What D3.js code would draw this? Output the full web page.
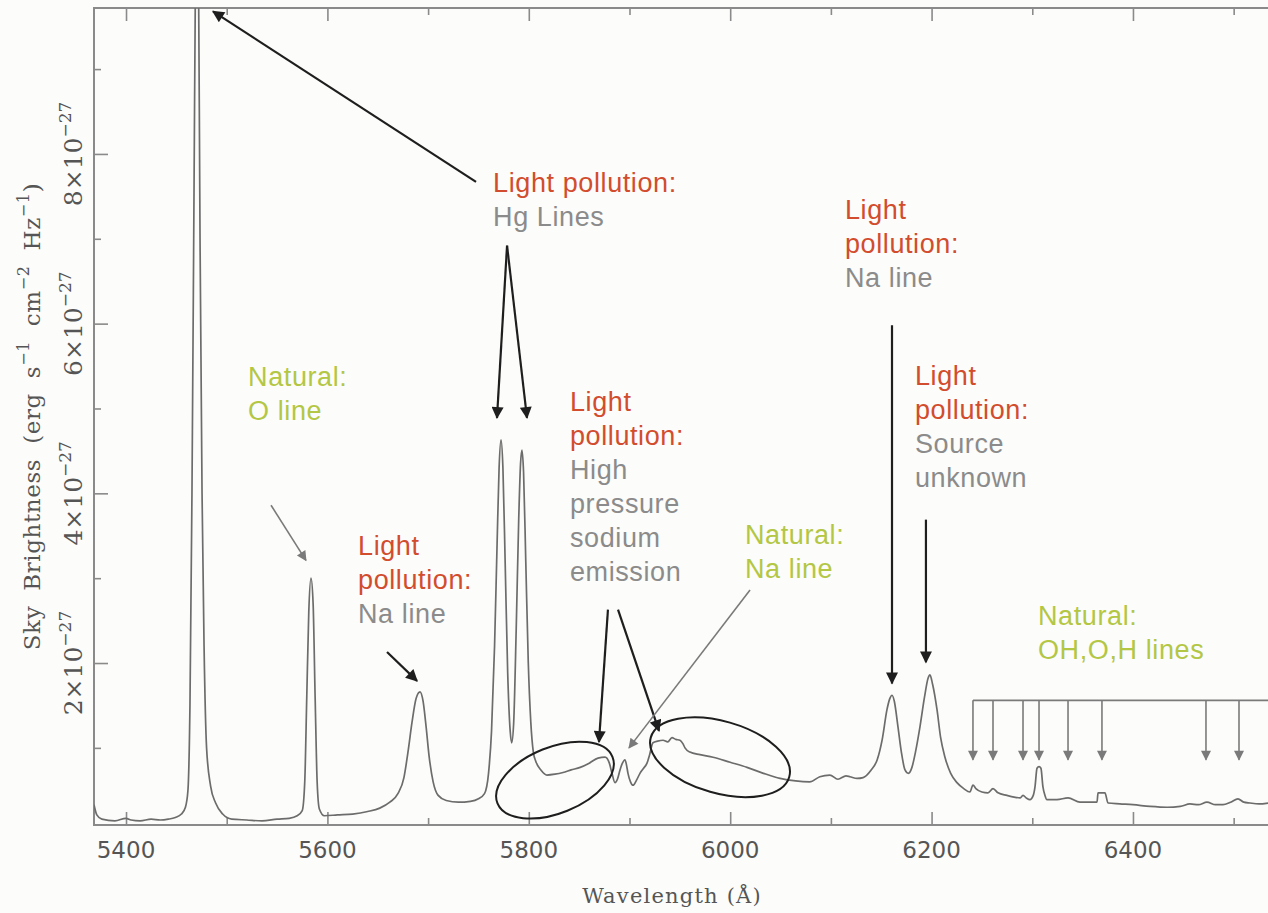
<!DOCTYPE html>
<html>
<head>
<meta charset="utf-8">
<script src="https://cdn.jsdelivr.net/npm/d3@7"></script>
<style>
  html, body { margin: 0; padding: 0; background: #fcfcfa; }
  svg { display: block; }
</style>
</head>
<body>
<svg id="chart" width="1268" height="913"></svg>
<script>
// Sky spectrum, flux in units of 1e-27 erg s^-1 cm^-2 Hz^-1
const wavelength = [
  5368.2, 5371, 5376, 5389, 5400, 5405, 5414, 5425, 5434, 5442, 5449, 5455, 5459,
  5461.5, 5463.5, 5465.5, 5467.5, 5469.2, 5470.5, 5471.8, 5473.5, 5475.5, 5477.5, 5480, 5484, 5489, 5496,
  5505, 5520, 5535, 5550, 5562, 5570, 5575,
  5577.5, 5579.5, 5581.5, 5583.7, 5585.8, 5587.8, 5589.8, 5592, 5597,
  5610, 5625, 5640, 5652, 5662, 5670, 5676, 5680, 5684, 5688, 5692, 5695, 5698, 5701, 5705, 5710,
  5718, 5730, 5742, 5750, 5756, 5760, 5763, 5766, 5768.5, 5770.5, 5772.4, 5774.3, 5776.5, 5779, 5781.5,
  5783, 5785, 5787.5, 5790, 5791.8, 5793.2, 5794.8, 5797, 5799.5, 5802, 5804.5, 5807, 5812, 5818,
  5826, 5834, 5842, 5851, 5860, 5868.7, 5875.7, 5880, 5882.6, 5885.6, 5888, 5890.6, 5893, 5895.5,
  5897, 5898.5, 5901, 5903.5, 5907, 5910.4, 5914, 5917.4, 5920, 5923.3, 5928, 5933.3, 5938, 5942.2,
  5946, 5950.1, 5953, 5955.1, 5960, 5970, 5983, 6000, 6016.7, 6033, 6049.5, 6065, 6079,
  6089, 6099, 6107, 6115, 6119, 6126, 6132, 6140, 6146, 6151, 6155.7, 6158.5, 6160.7, 6163, 6166.6,
  6170, 6173.6, 6177, 6180.5, 6184, 6188.5, 6193, 6196.5, 6198.4, 6201, 6205.4, 6209, 6213.3, 6219,
  6225.2, 6232, 6238.1, 6241.1, 6244, 6250, 6256, 6261, 6266, 6274.9, 6282, 6287.8, 6290.8, 6294,
  6297.7, 6301, 6302.7, 6304.7, 6306.7, 6308.6, 6310.6, 6312.6, 6314.6, 6324.5, 6335.5, 6347.4,
  6364.3, 6365.3, 6372.2, 6375.2, 6387, 6400, 6417, 6434, 6447, 6456.6, 6465, 6473.5, 6482, 6489.4,
  6497, 6504.3, 6510, 6516.2, 6525, 6534.1
];
const flux = [
  0.33, 0.21, 0.16, 0.14, 0.17, 0.15, 0.14, 0.16, 0.15, 0.16, 0.18, 0.22, 0.30,
  0.50, 1.5, 4.0, 7.5, 10.5, 11.5, 10.5, 7.0, 4.0, 2.2, 1.0, 0.55, 0.35, 0.22,
  0.16, 0.15, 0.14, 0.16, 0.17, 0.20, 0.26,
  0.6, 1.6, 2.6, 3.0, 2.7, 1.6, 0.6, 0.28, 0.20,
  0.21, 0.22, 0.25, 0.29, 0.36, 0.46, 0.65, 0.95, 1.3, 1.58, 1.66, 1.55, 1.25, 0.9, 0.6, 0.44,
  0.38, 0.36, 0.37, 0.40, 0.46, 0.7, 1.2, 2.2, 3.4, 4.3, 4.63, 4.3, 3.2, 1.9, 1.2,
  1.06, 1.3, 2.4, 3.7, 4.35, 4.51, 4.25, 3.2, 2.0, 1.3, 0.95, 0.84, 0.74, 0.68,
  0.69, 0.71, 0.74, 0.77, 0.82, 0.88, 0.89, 0.82, 0.70, 0.59, 0.63, 0.74, 0.82, 0.86,
  0.80, 0.70, 0.60, 0.56, 0.62, 0.70, 0.76, 0.82, 0.92, 1.06, 1.08, 1.09, 1.07, 1.12,
  1.10, 1.09, 1.05, 1.00, 0.95, 0.92, 0.89, 0.83, 0.77, 0.70, 0.64, 0.61, 0.60,
  0.66, 0.68, 0.63, 0.67, 0.66, 0.64, 0.65, 0.74, 0.86, 1.1, 1.45, 1.58, 1.62, 1.55, 1.25,
  0.95, 0.74, 0.70, 0.77, 0.95, 1.25, 1.6, 1.82, 1.86, 1.75, 1.45, 1.12, 0.89, 0.70,
  0.59, 0.52, 0.48, 0.56, 0.52, 0.48, 0.47, 0.52, 0.47, 0.44, 0.42, 0.41, 0.44, 0.41,
  0.39, 0.44, 0.54, 0.76, 0.78, 0.76, 0.54, 0.44, 0.39, 0.39, 0.41, 0.36,
  0.36, 0.47, 0.47, 0.35, 0.34, 0.33, 0.31, 0.30, 0.31, 0.34, 0.33, 0.36, 0.33, 0.33,
  0.36, 0.40, 0.36, 0.35, 0.34, 0.35
];

// axis ticks
const xMajorTicks = [5400, 5600, 5800, 6000, 6200, 6400];
const xMinorTicks = [5500, 5700, 5900, 6100, 6300, 6500];
const yMajorTicks = [2, 4, 6, 8];
const yMinorTicks = [1, 3, 5, 7, 9];

// arrows: [from wavelength, from flux, to wavelength, to flux, colour]
const arrows = [
  [5747.6, 7.67, 5486.4, 9.68, "dark"],
  [5778.4, 6.92, 5768.4, 4.89, "dark"],
  [5778.4, 6.92, 5798.2, 4.89, "dark"],
  [5544.0, 3.86, 5578.7, 3.21, "grey"],
  [5659.2, 2.13, 5689.0, 1.79, "dark"],
  [5878.6, 2.63, 5869.7, 1.07, "dark"],
  [5888.6, 2.63, 5929.3, 1.20, "dark"],
  [6019.7, 2.86, 5899.5, 1.00, "grey"],
  [6160.7, 5.98, 6160.7, 1.76, "dark"],
  [6194.4, 3.69, 6194.4, 2.01, "dark"]
];

// OH / O / H airglow markers
const ohLines = [6241.1, 6261.0, 6290.8, 6306.7, 6335.5, 6369.2, 6472.5, 6505.3];
const ohBracketFlux = 1.56;
const ohTipFlux = 0.86;

// circled regions: [centre wavelength, centre flux]
const ellipses = [
  [5826.0, 0.62, 62, 33, -22],
  [5989.9, 0.89, 72, 36, 16]
];

// text blocks anchored at [wavelength, flux] of first baseline
const notes = [
  { at: [5764.5, 7.55], lines: [["Light pollution:", "red"], ["Hg Lines", "grey"]] },
  { at: [5521.2, 5.26], lines: [["Natural:", "green"], ["O line", "green"]] },
  { at: [5630.4, 3.27], lines: [["Light", "red"], ["pollution:", "red"], ["Na line", "grey"]] },
  { at: [5840.9, 4.97], lines: [["Light", "red"], ["pollution:", "red"], ["High", "grey"], ["pressure", "grey"], ["sodium", "grey"], ["emission", "grey"]] },
  { at: [6014.7, 3.40], lines: [["Natural:", "green"], ["Na line", "green"]] },
  { at: [6114.0, 7.23], lines: [["Light", "red"], ["pollution:", "red"], ["Na line", "grey"]] },
  { at: [6183.5, 5.28], lines: [["Light", "red"], ["pollution:", "red"], ["Source", "grey"], ["unknown", "grey"]] },
  { at: [6305.7, 2.45], lines: [["Natural:", "green"], ["OH,O,H lines", "green"]] }
];

const colours = { red: "#d24c2e", grey: "#8b8b8b", green: "#b3c744", dark: "#1e1e1e" };
const arrowColours = { dark: "#1e1e1e", grey: "#7a7a7a" };

const svg = d3.select("#chart");
const plotLeft = 94, plotRight = 1268, plotTop = 8, plotBottom = 825;

const x = d3.scaleLinear().domain([5368.2, 6534.1]).range([plotLeft, plotRight]);
const y = d3.scaleLinear().domain([0.091, 9.72]).range([plotBottom, plotTop]);

const axisColour = "#8a8a8a";

// markers
const defs = svg.append("defs");
Object.entries(arrowColours).forEach(([k, c]) => {
  defs.append("marker")
    .attr("id", "head-" + k)
    .attr("viewBox", "0 0 10 10")
    .attr("refX", 9).attr("refY", 5)
    .attr("markerUnits", "userSpaceOnUse")
    .attr("markerWidth", k === "dark" ? 14 : 12)
    .attr("markerHeight", k === "dark" ? 12 : 10)
    .attr("orient", "auto")
    .append("path")
    .attr("d", "M0,0 L10,5 L0,10 Z")
    .attr("fill", c);
});
defs.append("clipPath").attr("id", "plot-clip")
  .append("rect").attr("x", plotLeft).attr("y", plotTop)
  .attr("width", plotRight - plotLeft + 10).attr("height", plotBottom - plotTop);

// frame
svg.append("rect")
  .attr("x", plotLeft).attr("y", plotTop)
  .attr("width", plotRight - plotLeft + 20).attr("height", plotBottom - plotTop)
  .attr("fill", "none").attr("stroke", axisColour).attr("stroke-width", 2);

// ticks (drawn inward)
function ticks(axis, vals, size) {
  return axis.tickValues(vals).tickSize(-size).tickFormat("");
}
const tickLayers = [
  [d3.axisBottom(x), xMajorTicks, 13, `translate(0,${plotBottom})`],
  [d3.axisBottom(x), xMinorTicks, 7, `translate(0,${plotBottom})`],
  [d3.axisTop(x), xMajorTicks, 13, `translate(0,${plotTop})`],
  [d3.axisTop(x), xMinorTicks, 7, `translate(0,${plotTop})`],
  [d3.axisLeft(y), yMajorTicks, 14, `translate(${plotLeft},0)`],
  [d3.axisLeft(y), yMinorTicks, 7, `translate(${plotLeft},0)`]
];
tickLayers.forEach(([ax, vals, size, tr]) => {
  const g = svg.append("g").attr("transform", tr).call(ticks(ax, vals, size));
  g.select(".domain").remove();
  g.selectAll("line").attr("stroke", axisColour).attr("stroke-width", 1.6);
});

// x tick labels
svg.append("g").selectAll("text")
  .data(xMajorTicks).enter().append("text")
  .attr("x", d => x(d)).attr("y", 858)
  .attr("text-anchor", "middle")
  .attr("font-family", "'DejaVu Sans', sans-serif")
  .attr("font-size", 23).attr("fill", "#555")
  .text(d => d);

// y tick labels (rotated, a×10^-27)
const yLab = svg.append("g").selectAll("g")
  .data(yMajorTicks).enter().append("g")
  .attr("transform", d => `translate(82,${y(d)}) rotate(-90)`);
const yText = yLab.append("text")
  .attr("text-anchor", "middle")
  .attr("font-family", "'DejaVu Serif', serif")
  .attr("font-size", 25).attr("fill", "#555");
yText.append("tspan").text(d => d + "\u00d710");
yText.append("tspan").attr("dy", -11).attr("font-size", 17).text("\u221227");

// axis titles
const yTitle = svg.append("text")
  .attr("transform", `translate(40,${(plotTop + plotBottom) / 2}) rotate(-90)`)
  .attr("text-anchor", "middle")
  .attr("font-family", "'DejaVu Serif', serif")
  .attr("font-size", 23).attr("fill", "#555")
  .attr("word-spacing", 7)
  .attr("letter-spacing", 0.6);
[["Sky Brightness (erg s", 0], ["\u22121", 1], [" cm", 0], ["\u22122", 1], [" Hz", 0], ["\u22121", 1], [")", 0]]
  .forEach(([t, sup], i, arr) => {
    const prevSup = i > 0 && arr[i - 1][1];
    yTitle.append("tspan")
      .attr("dy", sup ? -11 : (prevSup ? 11 : 0))
      .attr("font-size", sup ? 16 : 23)
      .text(t);
  });

svg.append("text")
  .attr("x", 672).attr("y", 903)
  .attr("text-anchor", "middle")
  .attr("font-family", "'DejaVu Serif', serif")
  .attr("font-size", 21).attr("fill", "#555")
  .attr("letter-spacing", 1.2)
  .text("Wavelength (\u00c5)");

// spectrum
const spectrum = wavelength.map((w, i) => [w, flux[i]]);
svg.append("path")
  .datum(spectrum)
  .attr("clip-path", "url(#plot-clip)")
  .attr("fill", "none")
  .attr("stroke", "#6c6c6c")
  .attr("stroke-width", 1.7)
  .attr("stroke-linejoin", "round")
  .attr("d", d3.line().x(d => x(d[0])).y(d => y(d[1])).curve(d3.curveMonotoneX));

// circled regions
svg.append("g").selectAll("ellipse")
  .data(ellipses).enter().append("ellipse")
  .attr("transform", d => `translate(${x(d[0])},${y(d[1])}) rotate(${d[4]})`)
  .attr("rx", d => d[2]).attr("ry", d => d[3])
  .attr("fill", "none").attr("stroke", "#1e1e1e").attr("stroke-width", 2);

// arrows
svg.append("g").selectAll("line")
  .data(arrows).enter().append("line")
  .attr("x1", d => x(d[0])).attr("y1", d => y(d[1]))
  .attr("x2", d => x(d[2])).attr("y2", d => y(d[3]))
  .attr("stroke", d => arrowColours[d[4]])
  .attr("stroke-width", d => d[4] === "dark" ? 2.2 : 1.6)
  .attr("marker-end", d => `url(#head-${d[4]})`);

// OH bracket
const oh = svg.append("g");
oh.append("line")
  .attr("x1", x(ohLines[0])).attr("x2", plotRight + 5)
  .attr("y1", y(ohBracketFlux)).attr("y2", y(ohBracketFlux))
  .attr("stroke", arrowColours.grey).attr("stroke-width", 1.6);
oh.selectAll("line.drop")
  .data(ohLines).enter().append("line")
  .attr("class", "drop")
  .attr("x1", d => x(d)).attr("x2", d => x(d))
  .attr("y1", y(ohBracketFlux)).attr("y2", y(ohTipFlux))
  .attr("stroke", arrowColours.grey).attr("stroke-width", 1.6)
  .attr("marker-end", "url(#head-grey)");

// notes
const lineGap = 34;
notes.forEach(n => {
  const t = svg.append("text")
    .attr("font-family", "'Liberation Sans', Arial, sans-serif")
    .attr("font-size", 27)
    .attr("letter-spacing", 0.6);
  n.lines.forEach(([s, c], i) => {
    t.append("tspan")
      .attr("x", x(n.at[0]))
      .attr("y", y(n.at[1]) + i * lineGap)
      .attr("fill", colours[c])
      .text(s);
  });
});
</script>
</body>
</html>
